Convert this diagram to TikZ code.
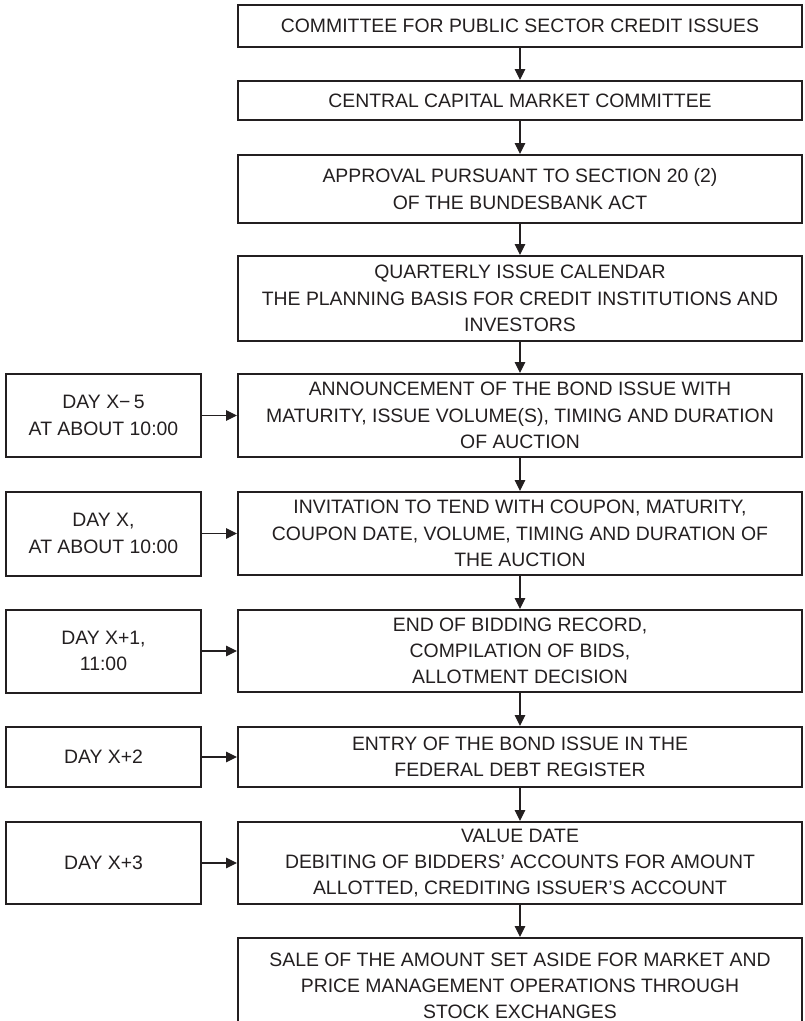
\documentclass[tikz,border=0pt]{standalone}
\usepackage{fontspec}
\setmainfont{Liberation Sans}
\usetikzlibrary{arrows.meta}
\definecolor{ink}{RGB}{35,31,32}
\begin{document}
\begin{tikzpicture}[x=1pt,y=-1pt,
  txt/.style={font=\fontsize{19.4}{26.3}\selectfont, text=ink, align=center},
  mainbox/.style={txt, draw=ink, line width=2pt, minimum width=564pt, inner sep=0pt},
  daybox/.style={txt, draw=ink, line width=2pt, minimum width=195pt, inner sep=0pt},
  flow/.style={draw=ink, line width=1.1pt, -{Triangle[length=11pt,width=10.5pt]}}
]
\useasboundingbox (0,0) rectangle (805,1021);

% main sequence of steps
\node[mainbox, minimum height=42pt] (b1) at (520,26) {COMMITTEE FOR PUBLIC SECTOR CREDIT ISSUES};
\node[mainbox, minimum height=39pt] (b2) at (520,100.5) {CENTRAL CAPITAL MARKET COMMITTEE};
\node[mainbox, minimum height=68pt] (b3) at (520,189) {APPROVAL PURSUANT TO SECTION 20 (2)\\OF THE BUNDESBANK ACT};
\node[mainbox, minimum height=85pt] (b4) at (520,298.5) {QUARTERLY ISSUE CALENDAR\\THE PLANNING BASIS FOR CREDIT INSTITUTIONS AND\\INVESTORS};
\node[mainbox, minimum height=83pt] (b5) at (520,415.5) {ANNOUNCEMENT OF THE BOND ISSUE WITH\\MATURITY, ISSUE VOLUME(S), TIMING AND DURATION\\OF AUCTION};
\node[mainbox, minimum height=83pt] (b6) at (520,533.5) {INVITATION TO TEND WITH COUPON, MATURITY,\\COUPON DATE, VOLUME, TIMING AND DURATION OF\\THE AUCTION};
\node[mainbox, minimum height=82pt] (b7) at (520,651) {END OF BIDDING RECORD,\\COMPILATION OF BIDS,\\ALLOTMENT DECISION};
\node[mainbox, minimum height=60pt] (b8) at (520,757) {ENTRY OF THE BOND ISSUE IN THE\\FEDERAL DEBT REGISTER};
\node[mainbox, minimum height=82pt] (b9) at (520,863) {VALUE DATE\\DEBITING OF BIDDERS’ ACCOUNTS FOR AMOUNT\\ALLOTTED, CREDITING ISSUER’S ACCOUNT};
\node[mainbox, minimum height=96pt] (b10) at (520,986) {SALE OF THE AMOUNT SET ASIDE FOR MARKET AND\\PRICE MANAGEMENT OPERATIONS THROUGH\\STOCK EXCHANGES};

% timing boxes
\node[daybox, minimum height=83pt] (d1) at (103.5,415.5) {DAY X−\,5\\AT ABOUT 10:00};
\node[daybox, minimum height=84pt] (d2) at (103.5,533.5) {DAY X,\\AT ABOUT 10:00};
\node[daybox, minimum height=83pt] (d3) at (103.5,651) {DAY X+1,\\11:00};
\node[daybox, minimum height=60pt] (d4) at (103.5,757) {DAY X+2};
\node[daybox, minimum height=82pt] (d5) at (103.5,863) {DAY X+3};

% connectors
\foreach \a/\b in {b1/b2,b2/b3,b3/b4,b4/b5,b5/b6,b6/b7,b7/b8,b8/b9,b9/b10}
  \draw[flow] (\a.south) -- (\b.north);
\foreach \i in {1,...,5}
  \draw[flow] (d\i.east) -- (d\i.east -| b5.west);
\end{tikzpicture}
\end{document}
